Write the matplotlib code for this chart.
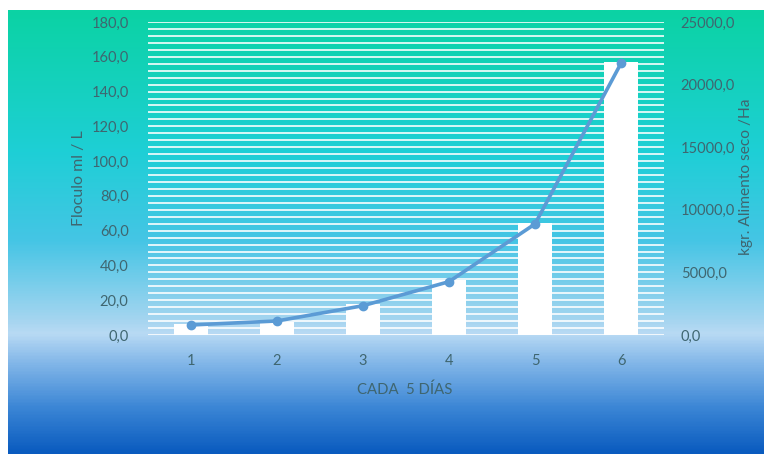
import numpy as np
import matplotlib
matplotlib.use('Agg')
import matplotlib.pyplot as plt
from matplotlib.colors import LinearSegmentedColormap
from matplotlib.ticker import FuncFormatter

# data
days = ['1', '2', '3', '4', '5', '6']
floculo = [6.1, 7.6, 17.6, 31.6, 64.2, 157.0]          # ml / L (bars, left axis)
alimento = [800, 1120, 2340, 4260, 8870, 21700]        # kgr / Ha (line, right axis)

left_ticks = np.arange(0, 181, 20)
right_ticks = np.arange(0, 25001, 5000)

plt.rcParams['font.family'] = ['Lato', 'DejaVu Sans']
text_col = '#3F6670'

fig = plt.figure(figsize=(7.64, 4.54), dpi=100)
fig.patch.set_facecolor('white')

# gradient background of the chart area
W, H = 764, 454
bg = fig.add_axes([8 / W, 0, 1 - 8 / W, 1 - 10 / H])
stops = [(0.0, '#0BD3A4'), (0.32, '#1ECFD6'), (0.52, '#45C5E5'),
         (0.70, '#A5D5F0'), (0.73, '#B8DAF4'), (0.80, '#80B5E8'),
         (0.90, '#3A85D5'), (1.0, '#0A5BBF')]
cmap = LinearSegmentedColormap.from_list('bg', stops)
grad = np.linspace(0, 1, 400).reshape(-1, 1)
bg.imshow(grad, aspect='auto', cmap=cmap, extent=[0, 1, 0, 1], origin='upper')
bg.axis('off')

# plot area: x 148..664 px, y 22..335 px
ax = fig.add_axes([148 / W, 1 - 335 / H, (664 - 148) / W, (335 - 22) / H])
ax.patch.set_alpha(0)
x = np.arange(len(days))
ax.bar(x, floculo, width=0.4, color='white', zorder=3)
ax.set_xlim(-0.5, len(days) - 0.5)
ax.set_ylim(0, 180)
ax.set_yticks(left_ticks)
for g in np.arange(0, 181, 4):
    ax.axhline(g, color='white', lw=1.3, alpha=0.9, zorder=1)
ax.yaxis.set_major_formatter(FuncFormatter(lambda v, p: f'{v:.1f}'.replace('.', ',')))
ax.set_xticks(x)
ax.set_xticklabels(days)
ax.tick_params(length=0, colors=text_col, labelsize=10.5)
ax.tick_params(axis='y', pad=14)
ax.tick_params(axis='x', pad=14)
for s in ax.spines.values():
    s.set_visible(False)
ax.set_ylabel('Floculo ml / L', color=text_col, fontsize=11.5)
ax.yaxis.set_label_coords(-0.120, 0.5)
ax.set_xlabel('CADA  5 DÍAS', color=text_col, fontsize=10.7)
ax.xaxis.set_label_coords(0.498, -0.153)

ax2 = ax.twinx()
ax2.plot(x, alimento, color='#5B9BD5', lw=2.6, marker='o', ms=6, zorder=5)
ax2.set_ylim(0, 25000)
ax2.set_yticks(right_ticks)
ax2.yaxis.set_major_formatter(FuncFormatter(lambda v, p: f'{v:.1f}'.replace('.', ',')))
ax2.tick_params(length=0, colors=text_col, labelsize=10.5, pad=12)
for s in ax2.spines.values():
    s.set_visible(False)
ax2.set_ylabel('kgr. Alimento seco /Ha', color=text_col, fontsize=11.2)
ax2.yaxis.set_label_coords(1.146, 0.505)

fig.savefig('out.png', dpi=100)
